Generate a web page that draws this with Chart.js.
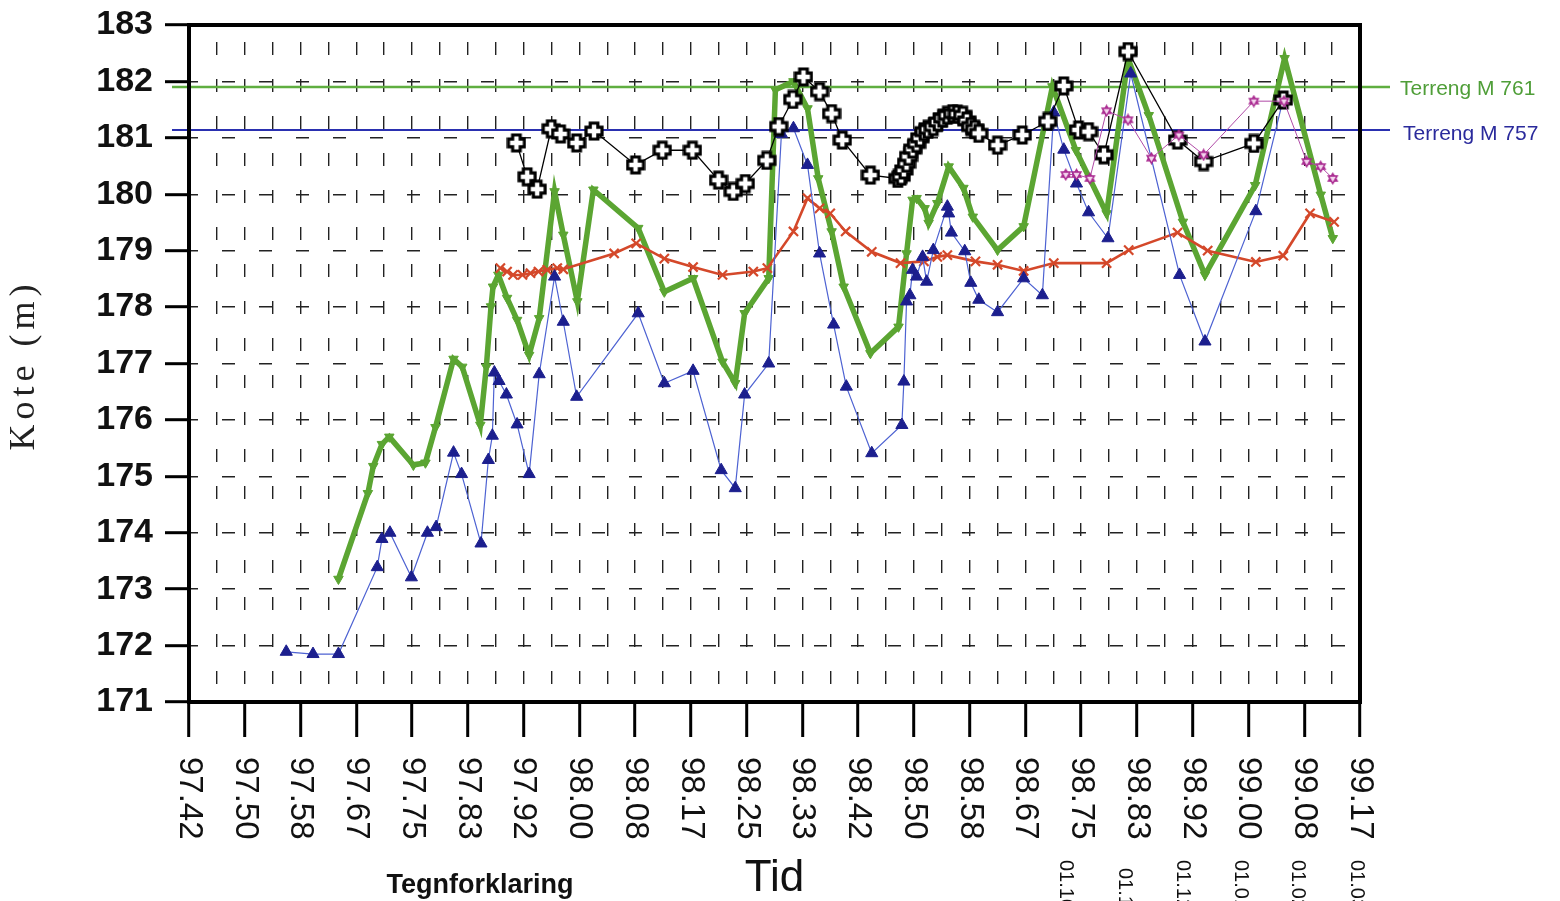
<!DOCTYPE html>
<html>
<head>
<meta charset="utf-8">
<script src="https://cdn.jsdelivr.net/npm/chart.js@4.4.0/dist/chart.umd.min.js"></script>
<style>
  html, body { margin: 0; padding: 0; background: #fff; }
</style>
</head>
<body>
<canvas id="kote" width="1560" height="901"></canvas>
<script>
// tid i desimalår (97.42 = mai 1997), kote i meter
const tickLabels = ['97.42', '97.50', '97.58', '97.67', '97.75', '97.83', '97.92', '98.00', '98.08', '98.17', '98.25',
                    '98.33', '98.42', '98.50', '98.58', '98.67', '98.75', '98.83', '98.92', '99.00', '99.08', '99.17'];
const dateLabels = ['01.10.98', '01.11.98', '01.12.98', '01.01.99', '01.02.99', '01.03.99'];
const datePos = [98.726, 98.815, 98.902, 98.988, 99.074, 99.162];

const terrengM761 = 181.90;
const terrengM757 = 181.14;

const blueX = [97.562, 97.602, 97.640, 97.698, 97.705, 97.717, 97.749, 97.773, 97.786, 97.812, 97.824, 97.853, 97.864,
  97.870, 97.873, 97.880, 97.891, 97.907, 97.925, 97.940, 97.963, 97.976, 97.996, 98.088, 98.127, 98.170, 98.212, 98.233,
  98.247, 98.283, 98.302, 98.320, 98.341, 98.359, 98.380, 98.399, 98.437, 98.482, 98.485, 98.489, 98.494, 98.498, 98.504,
  98.513, 98.519, 98.529, 98.550, 98.552, 98.556, 98.576, 98.585, 98.597, 98.625, 98.664, 98.692, 98.709, 98.724, 98.743,
  98.761, 98.790, 98.824, 98.897, 98.935, 99.011, 99.052];
const blueY = [171.89, 171.85, 171.85, 173.39, 173.89, 174.00, 173.21, 174.00, 174.10, 175.42, 175.04, 173.81, 175.29,
  175.72, 176.84, 176.69, 176.45, 175.92, 175.04, 176.81, 178.54, 177.74, 176.41, 177.89, 176.65, 176.87, 175.11, 174.79,
  176.45, 177.00, 181.07, 181.17, 180.52, 178.95, 177.69, 176.59, 175.41, 175.91, 176.68, 178.10, 178.21, 178.66, 178.54,
  178.89, 178.45, 179.01, 179.78, 179.66, 179.32, 178.99, 178.43, 178.13, 177.91, 178.51, 178.21, 181.45, 180.79, 180.19,
  179.68, 179.22, 182.14, 178.57, 177.39, 179.70, 181.69];

const greenX = [97.640, 97.684, 97.692, 97.705, 97.716, 97.752, 97.770, 97.785, 97.812, 97.825, 97.852, 97.861, 97.868,
  97.871, 97.879, 97.892, 97.907, 97.925, 97.940, 97.963, 97.976, 97.997, 98.021, 98.088, 98.127, 98.170, 98.214, 98.233,
  98.247, 98.283, 98.293, 98.320, 98.341, 98.357, 98.377, 98.395, 98.435, 98.477, 98.489, 98.498, 98.504, 98.516, 98.522,
  98.535, 98.552, 98.574, 98.588, 98.625, 98.664, 98.707, 98.742, 98.788, 98.820, 98.851, 98.902, 98.935, 99.010, 99.054,
  99.108, 99.126];
const greenY = [173.18, 174.70, 175.18, 175.57, 175.70, 175.20, 175.24, 175.87, 177.08, 176.94, 175.91, 176.94, 178.01,
  178.36, 178.57, 178.16, 177.77, 177.15, 177.80, 180.05, 179.28, 178.10, 180.08, 179.40, 178.27, 178.51, 177.03, 176.65,
  177.89, 178.51, 181.85, 182.00, 181.52, 180.28, 179.34, 178.36, 177.18, 177.65, 178.95, 179.90, 179.93, 179.75, 179.49,
  179.84, 180.49, 180.11, 179.60, 179.01, 179.43, 181.91, 180.78, 179.66, 182.41, 181.40, 179.51, 178.57, 180.16, 182.41,
  179.99, 179.22];

const blackX = [97.906, 97.922, 97.937, 97.958, 97.972, 97.996, 98.022, 98.084, 98.124, 98.169, 98.208, 98.230, 98.248,
  98.280, 98.298, 98.319, 98.335, 98.359, 98.377, 98.393, 98.435, 98.476, 98.481, 98.485, 98.489, 98.492, 98.498, 98.504,
  98.509, 98.515, 98.521, 98.529, 98.536, 98.543, 98.550, 98.558, 98.565, 98.573, 98.579, 98.585, 98.591, 98.597, 98.625,
  98.662, 98.700, 98.724, 98.746, 98.761, 98.784, 98.820, 98.894, 98.933, 99.008, 99.052];
const blackY = [180.91, 180.31, 180.09, 181.16, 181.07, 180.91, 181.12, 180.52, 180.78, 180.78, 180.25, 180.05, 180.19,
  180.60, 181.20, 181.68, 182.08, 181.82, 181.43, 180.96, 180.34, 180.28, 180.32, 180.43, 180.55, 180.67, 180.80, 180.90,
  181.00, 181.11, 181.15, 181.20, 181.28, 181.35, 181.40, 181.43, 181.42, 181.40, 181.30, 181.20, 181.15, 181.08, 180.87,
  181.05, 181.29, 181.92, 181.14, 181.11, 180.70, 182.53, 180.96, 180.58, 180.90, 181.67];

const redX = [97.882, 97.892, 97.901, 97.915, 97.927, 97.939, 97.952, 97.967, 97.976, 98.052, 98.085, 98.127, 98.170,
  98.214, 98.260, 98.281, 98.320, 98.341, 98.359, 98.375, 98.398, 98.437, 98.480, 98.515, 98.535, 98.550, 98.592, 98.625,
  98.664, 98.709, 98.788, 98.821, 98.894, 98.939, 99.011, 99.052, 99.092, 99.128];
const redY = [178.69, 178.63, 178.57, 178.57, 178.60, 178.63, 178.66, 178.69, 178.67, 178.95, 179.13, 178.86, 178.71,
  178.57, 178.63, 178.69, 179.34, 179.93, 179.75, 179.66, 179.34, 178.98, 178.78, 178.81, 178.89, 178.92, 178.81, 178.75,
  178.64, 178.78, 178.78, 179.01, 179.32, 179.00, 178.80, 178.91, 179.66, 179.51];

const pinkX = [98.727, 98.743, 98.763, 98.788, 98.820, 98.855, 98.896, 98.933, 99.008, 99.053, 99.087, 99.108, 99.126];
const pinkY = [180.35, 180.35, 180.28, 181.48, 181.32, 180.64, 181.05, 180.70, 181.65, 181.65, 180.58, 180.49, 180.28];

const pts = (xs, ys) => xs.map((x, i) => ({ x: x, y: ys[i] }));

// hjelpelinjer hver halve måned
const gridTicks = [];
for (let i = 0; i < tickLabels.length * 2 - 1; i++) gridTicks.push(97 + (5 + i / 2) / 12);

function plusMarker(size) {
  const c = document.createElement('canvas');
  c.width = c.height = size;
  const g = c.getContext('2d');
  const m = size / 2, a = size * 0.19, e = size / 2 - 2;
  g.beginPath();
  g.moveTo(m - a, m - e); g.lineTo(m + a, m - e); g.lineTo(m + a, m - a); g.lineTo(m + e, m - a);
  g.lineTo(m + e, m + a); g.lineTo(m + a, m + a); g.lineTo(m + a, m + e); g.lineTo(m - a, m + e);
  g.lineTo(m - a, m + a); g.lineTo(m - e, m + a); g.lineTo(m - e, m - a); g.lineTo(m - a, m - a);
  g.closePath();
  g.fillStyle = '#fff'; g.fill();
  g.lineWidth = 3.2; g.strokeStyle = '#000'; g.stroke();
  return c;
}

function starMarker(size) {
  const c = document.createElement('canvas');
  c.width = c.height = size;
  const g = c.getContext('2d');
  const m = size / 2, r = size / 2 - 1.5;
  g.strokeStyle = '#a8268e'; g.fillStyle = '#f4d6ee'; g.lineWidth = 1.5;
  [-Math.PI / 2, Math.PI / 2].forEach(s => {
    g.beginPath();
    for (let k = 0; k < 3; k++) {
      const t = s + k * 2 * Math.PI / 3;
      const px = m + r * Math.cos(t), py = m + r * Math.sin(t);
      if (k === 0) g.moveTo(px, py); else g.lineTo(px, py);
    }
    g.closePath(); g.fill(); g.stroke();
  });
  return c;
}

const extras = {
  id: 'extras',
  beforeDatasetsDraw(chart) {
    const { ctx, chartArea, scales: { y } } = chart;
    [[terrengM761, '#5fae40', 2.5], [terrengM757, '#2a30b0', 2]].forEach(([v, col, w]) => {
      const py = y.getPixelForValue(v);
      ctx.save();
      ctx.strokeStyle = col; ctx.lineWidth = w;
      ctx.beginPath(); ctx.moveTo(chartArea.left - 17, py); ctx.lineTo(chartArea.right + 30, py); ctx.stroke();
      ctx.restore();
    });
  },
  afterDraw(chart) {
    const { ctx, chartArea, scales: { x, y } } = chart;
    ctx.save();
    ctx.strokeStyle = '#000'; ctx.lineWidth = 4;
    ctx.strokeRect(chartArea.left, chartArea.top, chartArea.right - chartArea.left, chartArea.bottom - chartArea.top);

    ctx.fillStyle = '#111';
    ctx.font = '33px Arial';
    ctx.textAlign = 'left'; ctx.textBaseline = 'middle';
    tickLabels.forEach((t, i) => {
      const px = x.getPixelForValue(97 + (5 + i) / 12);
      ctx.save(); ctx.translate(px, chartArea.bottom + 55); ctx.rotate(Math.PI / 2);
      ctx.fillText(t, 0, 0); ctx.restore();
    });

    ctx.font = '20px Arial';
    dateLabels.forEach((t, i) => {
      const px = x.getPixelForValue(datePos[i]);
      ctx.save(); ctx.translate(px, 860 + (i === 1 ? 8 : 0)); ctx.rotate(Math.PI / 2);
      ctx.fillText(t, 0, 0); ctx.restore();
    });

    ctx.save();
    ctx.translate(25, 365);
    ctx.rotate(-Math.PI / 2);
    ctx.font = '36px "Liberation Serif"';
    ctx.letterSpacing = '5px';
    ctx.textAlign = 'center';
    ctx.fillStyle = '#222';
    ctx.fillText('Kote (m)', 0, 0);
    ctx.restore();

    ctx.font = 'bold 27px Arial';
    ctx.textAlign = 'center';
    ctx.fillStyle = '#111';
    ctx.fillText('Tegnforklaring', 480, 886);

    ctx.font = '21px Arial';
    ctx.textAlign = 'left';
    ctx.fillStyle = '#4f9e38';
    ctx.fillText('Terreng M 761', 1400, y.getPixelForValue(terrengM761) + 2);
    ctx.fillStyle = '#2a2a9c';
    ctx.fillText('Terreng M 757', 1403, y.getPixelForValue(terrengM757) + 4);
    ctx.restore();
  }
};

new Chart(document.getElementById('kote'), {
  type: 'line',
  data: {
    datasets: [
      {
        data: pts(pinkX, pinkY), borderColor: '#b04aa6', borderWidth: 1,
        pointStyle: starMarker(13), pointRadius: 6
      },
      {
        data: pts(blackX, blackY), borderColor: '#000', borderWidth: 1.3,
        pointStyle: plusMarker(20), pointRadius: 10
      },
      {
        data: pts(blueX, blueY), borderColor: '#4d62d2', borderWidth: 1.2,
        pointStyle: 'triangle', pointRadius: 7, pointBackgroundColor: '#1c1f8e', pointBorderColor: '#1c1f8e', pointBorderWidth: 1
      },
      {
        data: pts(redX, redY), borderColor: '#d4482a', borderWidth: 2.6,
        pointStyle: 'crossRot', pointRadius: 6.5, pointBorderColor: '#d4482a', pointBorderWidth: 2.2
      },
      {
        data: pts(greenX, greenY), borderColor: '#5ba532', borderWidth: 5.5, borderJoinStyle: 'miter',
        pointStyle: 'triangle', pointRotation: 180, pointRadius: 5.5,
        pointBackgroundColor: '#5ba532', pointBorderColor: '#5ba532', pointBorderWidth: 1
      }
    ]
  },
  options: {
    responsive: false,
    animation: false,
    layout: { padding: { top: 25, right: 200, left: 0, bottom: 0 } },
    plugins: { legend: { display: false }, tooltip: { enabled: false } },
    elements: { line: { tension: 0, fill: false } },
    scales: {
      x: {
        type: 'linear',
        min: 97 + 5 / 12,
        max: 99 + 2 / 12,
        afterBuildTicks: (scale) => { scale.ticks = gridTicks.map(v => ({ value: v })); },
        afterFit: (scale) => { scale.height = 199; scale.paddingLeft = 0; scale.paddingRight = 0; },
        ticks: { display: false },
        grid: {
          color: '#222', lineWidth: 1.4,
          tickLength: 35, tickWidth: 3,
          tickColor: (c) => (c.index % 2 === 0 ? '#000' : 'rgba(0,0,0,0)')
        },
        border: { display: true, color: '#000', width: 4, dash: [13, 24], dashOffset: 20 },
        title: {
          display: true, text: 'Tid', color: '#111',
          font: { family: 'Arial', size: 44, lineHeight: 1 },
          padding: { top: 0, bottom: 0 }
        }
      },
      y: {
        min: 171,
        max: 183,
        afterFit: (scale) => { scale.width = 189; scale.paddingTop = 0; scale.paddingBottom = 0; },
        ticks: { stepSize: 1, color: '#111', padding: 12, font: { family: 'Arial', size: 34, weight: 'bold' } },
        grid: { color: '#222', lineWidth: 1.4, tickLength: 24, tickWidth: 3, tickColor: '#000' },
        border: { display: true, color: '#000', width: 4, dash: [13, 24], dashOffset: 6 }
      }
    }
  },
  plugins: [extras]
});
</script>
</body>
</html>
